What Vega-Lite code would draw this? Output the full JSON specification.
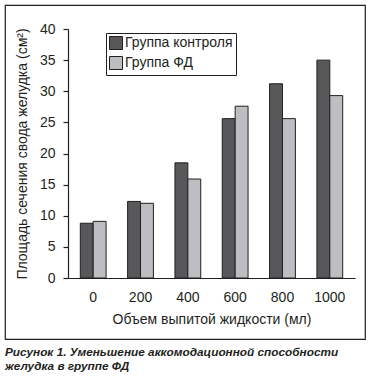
{
  "$schema": "https://vega.github.io/schema/vega-lite/v6.json",
  "width": 360,
  "height": 334,
  "padding": {"left": 5, "top": 5, "right": 6, "bottom": 3},
  "background": "white",
  "config": {
    "font": "Liberation Sans",
    "view": {"stroke": "#231f20", "strokeWidth": 1.2},
    "axis": {"labelColor": "#231f20", "titleColor": "#231f20", "domainColor": "#231f20", "tickColor": "#231f20", "grid": false, "labelFont": "Liberation Sans", "titleFont": "Liberation Sans", "titleFontWeight": "normal", "labelFontSize": 14, "titleFontSize": 14, "domainWidth": 1.2, "tickWidth": 1.2}
  },
  "title": {
    "text": ["Рисунок 1. Уменьшение аккомодационной способности", "желудка в группе ФД"],
    "orient": "bottom",
    "anchor": "start",
    "frame": "bounds",
    "font": "Liberation Sans",
    "fontStyle": "italic",
    "fontWeight": "bold",
    "fontSize": 11.8,
    "lineHeight": 14,
    "offset": 8,
    "color": "#231f20"
  },
  "data": {
    "values": [
      {"ml": "0", "group": "Группа контроля", "area": 8.8},
      {"ml": "0", "group": "Группа ФД", "area": 9.1},
      {"ml": "200", "group": "Группа контроля", "area": 12.3},
      {"ml": "200", "group": "Группа ФД", "area": 12.0},
      {"ml": "400", "group": "Группа контроля", "area": 18.5},
      {"ml": "400", "group": "Группа ФД", "area": 15.9},
      {"ml": "600", "group": "Группа контроля", "area": 25.6},
      {"ml": "600", "group": "Группа ФД", "area": 27.6},
      {"ml": "800", "group": "Группа контроля", "area": 31.2},
      {"ml": "800", "group": "Группа ФД", "area": 25.6},
      {"ml": "1000", "group": "Группа контроля", "area": 35.0},
      {"ml": "1000", "group": "Группа ФД", "area": 29.3}
    ]
  },
  "mark": {"type": "bar", "stroke": "#231f20", "strokeWidth": 1, "opacity": 1},
  "encoding": {
    "x": {
      "field": "ml",
      "type": "nominal",
      "sort": ["0", "200", "400", "600", "800", "1000"],
      "scale": {"range": [63, 350], "paddingInner": 0.455, "paddingOuter": 0.26},
      "axis": {"orient": "bottom", "offset": -61, "ticks": false, "labelAngle": 0, "labelPadding": 12, "title": "Объем выпитой жидкости (мл)", "titlePadding": 8}
    },
    "xOffset": {"field": "group", "sort": ["Группа контроля", "Группа ФД"]},
    "y": {
      "field": "area",
      "type": "quantitative",
      "scale": {"domain": [0, 40], "range": [273, 24], "nice": false, "zero": true},
      "axis": {"orient": "left", "offset": -63, "values": [0, 5, 10, 15, 20, 25, 30, 35, 40], "tickSize": 5, "labelPadding": 8, "title": "Площадь сечения свода желудка (см²)", "titlePadding": 10}
    },
    "color": {
      "field": "group",
      "type": "nominal",
      "scale": {"domain": ["Группа контроля", "Группа ФД"], "range": ["#58585b", "#bdbec1"]},
      "legend": {
        "title": null,
        "orient": "none",
        "legendX": 101,
        "legendY": 28,
        "direction": "vertical",
        "strokeColor": "#231f20",
        "padding": 3,
        "symbolType": "square",
        "symbolSize": 169,
        "symbolStrokeColor": "#231f20",
        "symbolStrokeWidth": 1,
        "symbolOpacity": 1,
        "labelFont": "Liberation Sans",
        "labelFontSize": 14,
        "labelColor": "#231f20",
        "labelOffset": 2,
        "rowPadding": 2,
        "labelLimit": 300
      }
    }
  }
}
